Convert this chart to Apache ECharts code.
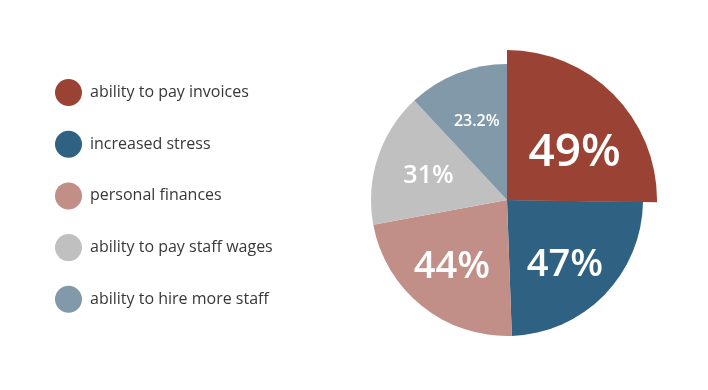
<!DOCTYPE html>
<html><head><meta charset="utf-8">
<script src="https://cdn.jsdelivr.net/npm/echarts@6/dist/echarts.min.js"></script>
<style>html,body{margin:0;padding:0;background:#fff}#c{width:708px;height:390px}</style>
</head><body><div id="c"></div>
<script>
const categories = ['ability to pay invoices','increased stress','personal finances','ability to pay staff wages','ability to hire more staff'];
const values = [49, 47, 44, 31, 23.2];
const labels = ['49%','47%','44%','31%','23.2%'];
const colors = ['#9a4334','#2f6282','#c18e88','#c0c0c0','#8299aa'];
const labelSizes = [46, 38, 38, 25, 16];
const labelOffsets = [[5,15],[-5,4],[0,-1],[5,3],[2,3]];

const chart = echarts.init(document.getElementById('c'));
const center = [507, 200];
chart.setOption({
  animation: false,
  legend: {
    orient: 'vertical', left: 50, top: 74,
    icon: 'circle', itemWidth: 27, itemHeight: 27, itemGap: 24.7,
    textStyle: {fontFamily: 'Open Sans', fontSize: 16, color: '#383838', padding: [0,0,0,3]},
    data: categories.map((n,i)=>({name:n, itemStyle:{color:colors[i]}}))
  },
  series: [
    {
      type: 'pie', radius: 136, center: center, startAngle: 90, clockwise: true,
      label: {show:false}, labelLine:{show:false}, silent: true,
      data: categories.map((n,i)=>({name:n, value:values[i], itemStyle:{color:colors[i]}}))
    },
    {
      type: 'pie', radius: 150, center: center, startAngle: 90, clockwise: true,
      label: {show:false}, labelLine:{show:false}, silent: true,
      data: categories.map((n,i)=>({name:n, value:values[i], itemStyle:{color: i===0 ? colors[i] : 'rgba(0,0,0,0)'}}))
    },
    {
      type: 'pie', radius: 170, center: center, startAngle: 90, clockwise: true,
      labelLine:{show:false}, silent: true,
      itemStyle: {color: 'rgba(0,0,0,0)'},
      label: {show:true, position:'inside', color:'#fff', fontFamily:'Open Sans', fontWeight:600},
      data: categories.map((n,i)=>({name:n, value:values[i],
        label:{formatter: labels[i], fontSize: labelSizes[i], offset: labelOffsets[i]}}))
    }
  ]
});
</script></body></html>
